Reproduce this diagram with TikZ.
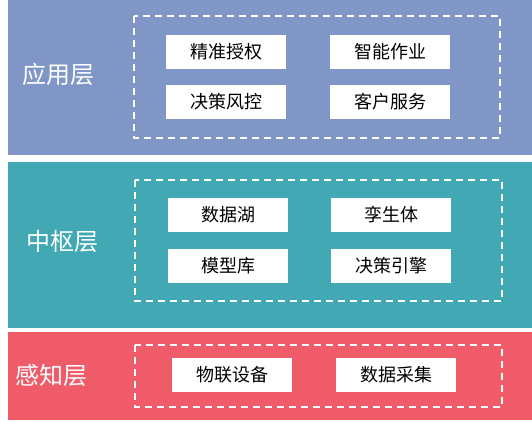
\documentclass[tikz,border=0pt]{standalone}
\usepackage{fontspec}
\setmainfont{Noto Sans CJK SC}
\newfontfamily\cjk{Noto Sans CJK SC}
\definecolor{bandA}{RGB}{127,150,198}
\definecolor{bandB}{RGB}{66,169,180}
\definecolor{bandC}{RGB}{240,91,106}
\begin{document}
\begin{tikzpicture}[x=1pt,y=-1pt,
  dbox/.style={draw=white,line width=1.8pt,dash pattern=on 7pt off 5pt},
  item/.style={fill=white,minimum width=120pt,minimum height=34pt,inner sep=0pt,font=\cjk\fontsize{18}{21}\selectfont,text=black},
  layer/.style={text=white,font=\cjk\fontsize{24}{28}\selectfont,inner sep=0pt}]
\useasboundingbox (0,0) rectangle (532,421);
\fill[bandA] (8,0) rectangle (532,155);
\fill[bandB] (8,162) rectangle (532,328);
\fill[bandC] (8,332) rectangle (532,420);
\draw[dbox] (134,16) rectangle (500,138);
\draw[dbox] (135,180) rectangle (502,301);
\draw[dbox] (135,345) rectangle (502,407);
\node[layer] (la) at (58,74) {应用层};
\node[layer] (lb) at (62,241) {中枢层};
\node[layer] (lc) at (52,375) {感知层};
\node[item] (a1) at (226,52) {精准授权};
\node[item] (a2) at (390,52) {智能作业};
\node[item] (a3) at (226,102) {决策风控};
\node[item] (a4) at (390,102) {客户服务};
\node[item] (b1) at (228,215) {数据湖};
\node[item] (b2) at (391,215) {孪生体};
\node[item] (b3) at (228,266) {模型库};
\node[item] (b4) at (391,266) {决策引擎};
\node[item] (c1) at (232,375) {物联设备};
\node[item] (c2) at (396,375) {数据采集};
\end{tikzpicture}
\end{document}
